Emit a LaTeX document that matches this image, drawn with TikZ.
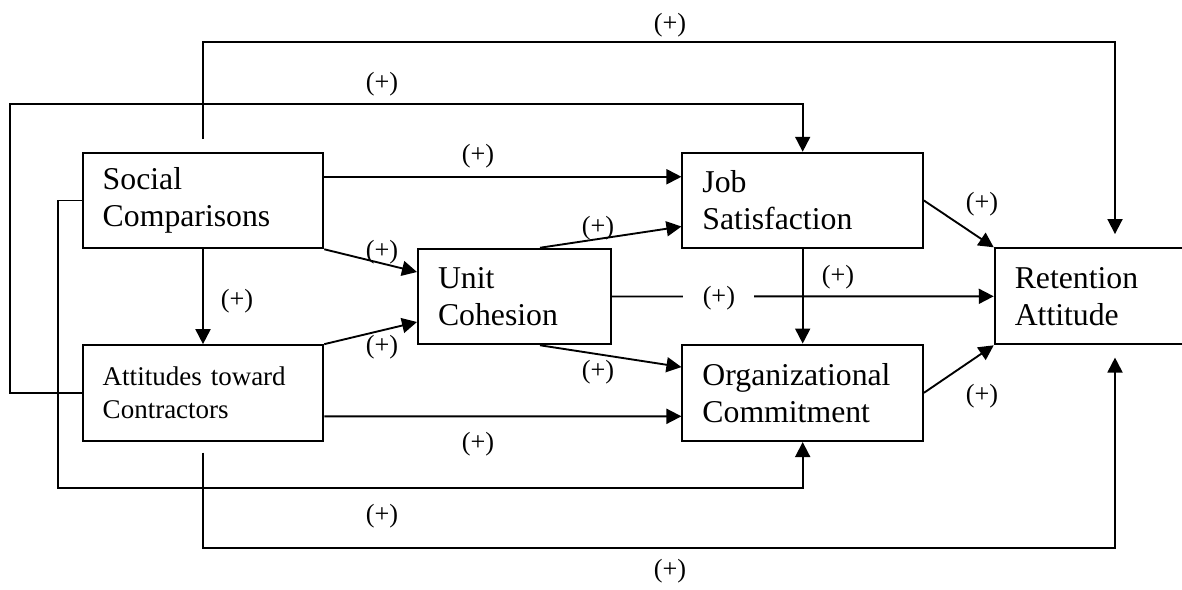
\documentclass[tikz,border=0pt]{standalone}
\usepackage{fontspec}
\setmainfont{Liberation Serif}
\usepackage{tikz}
\usetikzlibrary{arrows.meta, calc}

\begin{document}
\begin{tikzpicture}[x=0.4pt, y=-0.4pt, >={Triangle[length=6pt, width=6pt]},
  box/.style={draw, line width=0.8pt, inner xsep=8pt, inner ysep=0pt,
    minimum height=38.2pt, text width=80.2pt, align=left,
    font=\fontsize{12.7}{14.8}\selectfont},
  conn/.style={->, line width=0.75pt},
  plus/.style={font=\fontsize{10.5}{12}\selectfont, inner sep=1pt}]
  \useasboundingbox (0,0) rectangle (1182,589);
  \clip (0,0) rectangle (1182,589);

  % Constructs
  \node[box] (sc) at (203, 200.5) {Social\\Comparisons};
  \node[box, font=\fontsize{10.8}{13.3}\selectfont] (ac) at (203, 392.9)
    {Attitudes toward\\Contractors};
  \node[box, text width=61.2pt] (uc) at (514.5, 296.5) {Unit\\Cohesion};
  \node[box] (js) at (802.7, 200.5) {Job\\Satisfaction};
  \node[box, minimum height=38.6pt] (oc) at (802.7, 392.8)
    {Organizational\\Commitment};
  \node[box, minimum height=38.4pt] (ra) at (1115, 296.3) {Retention\\Attitude};

  % Direct paths
  \draw[conn] (sc.south) -- (ac.north);
  \draw[conn] ([yshift=9.5pt]sc.east) -- ([yshift=9.5pt]js.west);
  \draw[conn] (sc.south east) -- ([yshift=9.8pt]uc.west);
  \draw[conn] (ac.north east) -- ([yshift=-10.2pt]uc.west);
  \draw[conn] ([yshift=-9.4pt]ac.east) -- ([yshift=-9.4pt]oc.west);
  \draw[conn] ([xshift=10.2pt]uc.north) -- ([yshift=-10.4pt]js.west);
  \draw[conn] ([xshift=10.2pt]uc.south) -- ([yshift=10.3pt]oc.west);
  \draw[conn] (uc.east) -- (ra.west)
    node[plus, fill=white, inner xsep=7.7pt, pos=0.28, yshift=-0.8pt] (l9) {(+)};
  \draw[conn] (js.south) -- (oc.north);
  \draw[conn] (js.east) -- (ra.north west);
  \draw[conn] (oc.east) -- (ra.south west);

  % Long routes
  \draw[conn, shorten <=5.1pt, shorten >=5.3pt] (sc.north) -- ++(0,-109.4) -| (ra.north);
  \draw[conn, shorten <=4.4pt, shorten >=4.9pt] (ac.south) -- ++(0,106.3) -| (ra.south);
  \draw[conn] (ac.west) -| ++(-72,-288.6) -| (js.north);
  \draw[conn] (sc.west) -| ++(-23.4,287.9) -| (oc.south);

  % Signs
  \node[plus] (l1) at (670, 25) {(+)};
  \node[plus] (l2) at (382, 84) {(+)};
  \node[plus] (l3) at (478, 156) {(+)};
  \node[plus] (l4) at (382, 252) {(+)};
  \node[plus] (l5) at (598, 228) {(+)};
  \node[plus] (l6) at (982, 204) {(+)};
  \node[plus] (l7) at (237, 301) {(+)};
  \node[plus] (l8) at (838, 277) {(+)};
  \node[plus] (l10) at (382, 347) {(+)};
  \node[plus] (l11) at (598, 372) {(+)};
  \node[plus] (l12) at (982, 396) {(+)};
  \node[plus] (l13) at (478, 444) {(+)};
  \node[plus] (l14) at (382, 516) {(+)};
  \node[plus] (l15) at (670, 571) {(+)};
\end{tikzpicture}
\end{document}
